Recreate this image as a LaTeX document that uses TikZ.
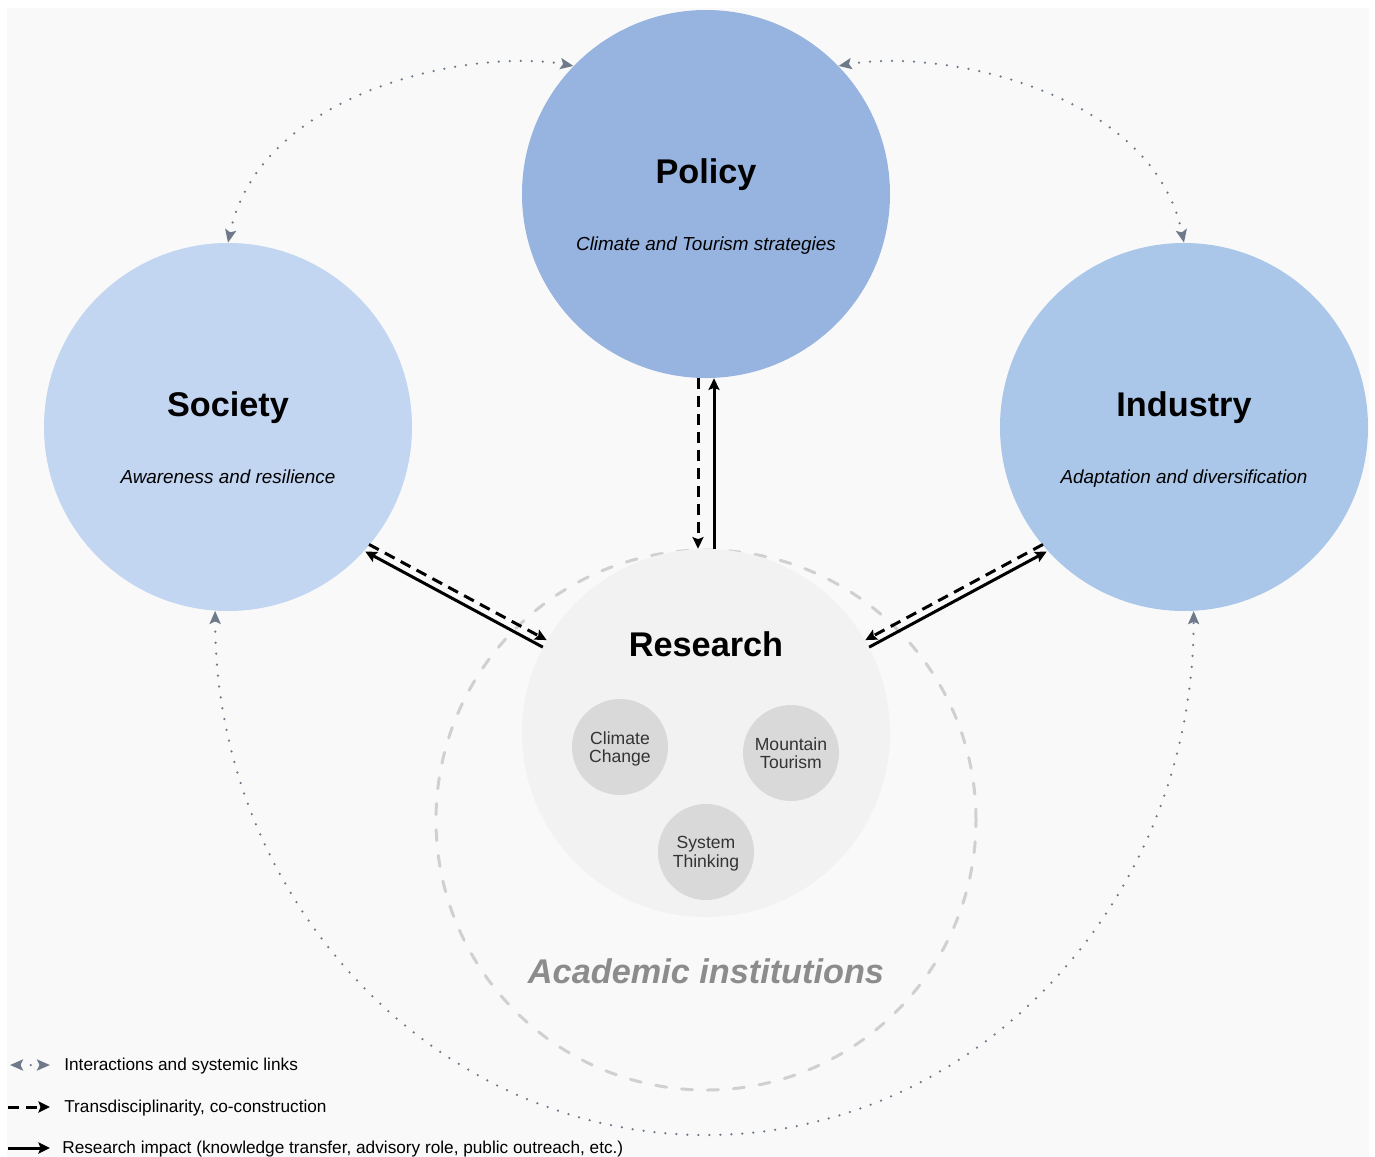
\documentclass[tikz,border=0pt]{standalone}
\usepackage{fontspec}
\setmainfont{Liberation Sans}
\usetikzlibrary{arrows.meta,calc,positioning}

\definecolor{policyblue}{HTML}{97B4E0}
\definecolor{societyblue}{HTML}{C2D5F1}
\definecolor{industryblue}{HTML}{AAC7EA}
\definecolor{researchgray}{HTML}{F2F2F2}
\definecolor{topicgray}{HTML}{D9D9D9}
\definecolor{bggray}{HTML}{F9F9F9}
\definecolor{linkgray}{HTML}{6E7A8A}
\definecolor{academicgray}{HTML}{D0D0D0}
\definecolor{academictext}{HTML}{8C8C8C}

\begin{document}
\begin{tikzpicture}[x=0.2mm, y=-0.2mm,
    actor/.style={circle, minimum size=73.6mm, inner sep=0pt},
    topic/.style={circle, fill=topicgray, minimum size=19.2mm, inner sep=0pt, align=center,
        text depth=0pt, font=\fontsize{10}{10.6}\selectfont, text=black!80},
    title/.style={anchor=base, font=\fontsize{19.5}{22}\selectfont\bfseries},
    subtitle/.style={anchor=base, font=\fontsize{10.75}{13}\selectfont\itshape},
    graytip/.tip={Stealth[length=2.6mm, width=2.2mm, inset=0.5mm]},
    blacktip/.tip={Stealth[length=2.3mm, width=2.2mm, inset=0.4mm]},
    link/.style={linkgray, line width=0.5mm, line cap=round, dash pattern=on 0mm off 2.2mm, graytip-graytip},
    coconstruct/.style={black, line width=0.6mm, dash pattern=on 2.2mm off 1.4mm, -blacktip},
    impact/.style={black, line width=0.6mm, -blacktip},
    legend/.style={anchor=west, inner sep=0pt, font=\fontsize{9.8}{12}\selectfont}
]
    \useasboundingbox (0,0) rectangle (1375,1157);
    \fill[bggray] (7,8) rectangle (1369,1157);

    \node[circle, draw=academicgray, line width=0.6mm, line cap=round, dash pattern=on 2.2mm off 3mm,
        minimum size=108mm, inner sep=0pt] (academic) at (706,820) {};
    \node[actor, fill=policyblue] (policy) at (706,194) {};
    \node[actor, fill=societyblue] (society) at (228,427) {};
    \node[actor, fill=industryblue] (industry) at (1184,427) {};
    \node[actor, fill=researchgray] (research) at (706,733) {};

    \node[title] (policytitle) at (706,183) {Policy};
    \node[subtitle] (policysub) at (706,250) {Climate and Tourism strategies};
    \node[title] (societytitle) at (228,416) {Society};
    \node[subtitle] (societysub) at (228,483) {Awareness and resilience};
    \node[title] (industrytitle) at (1184,416) {Industry};
    \node[subtitle] (industrysub) at (1184,483) {Adaptation and diversification};
    \node[title] (researchtitle) at (706,656) {Research};

    \node[topic] (climate) at (620,747) {Climate\\Change};
    \node[topic] (mountain) at (791,753) {Mountain\\Tourism};
    \node[topic] (systems) at (706,852) {System\\Thinking};

    \node[title, font=\fontsize{19.5}{22}\selectfont\bfseries\itshape, text=academictext] (academiclabel) at (706,983) {Academic institutions};

    % systemic links
    \coordinate (bottommid) at (706,1135);
    \draw[link] (society.north) .. controls +(32,-153) and +(-100,-18) .. (policy.136);
    \draw[link] (policy.44) .. controls +(100,-18) and +(-32,-153) .. (industry.north);
    \draw[link] (society.-94) .. controls +(0,290) and +(-270,0) .. (bottommid)
        .. controls +(270,0) and +(0,290) .. (industry.-87);

    % research <-> actors
    \draw[coconstruct] ([xshift=-1.6mm]policy.south) -- ([xshift=-1.6mm]research.north);
    \draw[impact] ([xshift=1.6mm]research.north) -- ([xshift=1.6mm]policy.south);

    \draw[coconstruct] ($(society.-41)!0.8mm!90:(research.151)$) -- ($(research.151)!0.8mm!-90:(society.-41)$);
    \draw[impact] ($(research.151)!0.8mm!90:(society.-41)$) -- ($(society.-41)!0.8mm!-90:(research.151)$);

    \draw[coconstruct] ($(industry.221)!0.8mm!-90:(research.29)$) -- ($(research.29)!0.8mm!90:(industry.221)$);
    \draw[impact] ($(research.29)!0.8mm!-90:(industry.221)$) -- ($(industry.221)!0.8mm!90:(research.29)$);

    % legend
    \node[legend] (leglinks) at (64,1066) {Interactions and systemic links};
    \node[legend] (legtrans) at (64,1108) {Transdisciplinarity, co-construction};
    \node[legend] (legimpact) at (62,1149) {Research impact (knowledge transfer, advisory role, public outreach, etc.)};
    \coordinate (l1) at (10,1065);
    \coordinate (l2) at (8,1107);
    \coordinate (l3) at (8,1148);
    \draw[link] (l1) -- ([xshift=-2.8mm]leglinks.west |- l1);
    \draw[coconstruct] (l2) -- ([xshift=-2.8mm]legtrans.west |- l2);
    \draw[impact] (l3) -- ([xshift=-2.4mm]legimpact.west |- l3);
\end{tikzpicture}
\end{document}
